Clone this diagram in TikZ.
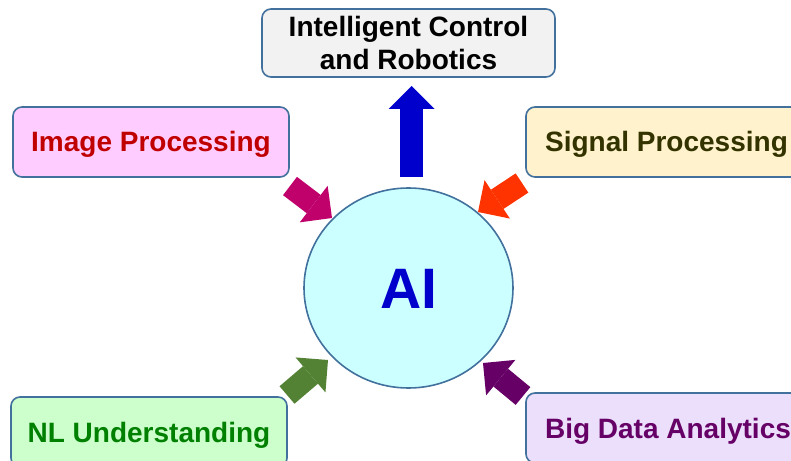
\documentclass[tikz,border=0pt]{standalone}
\usepackage{fontspec}
\setmainfont{Liberation Sans}
\usepackage{xcolor}
\usetikzlibrary{arrows.meta, shapes.geometric}

\definecolor{edgeblue}{HTML}{41719C}
\definecolor{roboFill}{HTML}{F2F2F2}
\definecolor{imageFill}{HTML}{FFCCFF}
\definecolor{imageText}{HTML}{C00000}
\definecolor{signalFill}{HTML}{FFF2CC}
\definecolor{signalText}{HTML}{333300}
\definecolor{nlFill}{HTML}{CCFFCC}
\definecolor{nlText}{HTML}{008000}
\definecolor{dataFill}{HTML}{EBDFFB}
\definecolor{dataText}{HTML}{660066}
\definecolor{aiFill}{HTML}{CCFFFF}
\definecolor{aiBlue}{HTML}{0000CC}
\definecolor{imageArrow}{HTML}{C0006B}
\definecolor{signalArrow}{HTML}{FF3300}
\definecolor{nlArrow}{HTML}{548235}

\begin{document}
\begin{tikzpicture}[x=1bp, y=-1bp,
    field/.style={draw=edgeblue, line width=1.6bp, rounded corners=9bp,
        minimum height=70bp, inner sep=0pt,
        font=\fontsize{28bp}{33bp}\selectfont\bfseries},
    flat/.style={text height=20bp, text depth=0bp},
    fat/.style={line width=23bp, -{Triangle[width=46bp, length=23bp, line width=0pt]}}]
  \useasboundingbox (0,0) rectangle (791,461);
  \clip (0,0) rectangle (791,461);

  % the fields round the centre
  \node[field, fill=roboFill, align=center, minimum width=293bp, minimum height=68bp]
      (robo) at (408.5,43) {Intelligent Control\\and Robotics};
  \node[field, flat, fill=imageFill, text=imageText, minimum width=276bp]
      (image) at (151,142) {Image Processing};
  \node[field, flat, fill=signalFill, text=signalText, minimum width=281bp]
      (signal) at (666.5,142) {Signal Processing};
  \node[field, flat, fill=nlFill, text=nlText, minimum width=276bp]
      (nl) at (149,432) {NL Understanding};
  \node[field, flat, fill=dataFill, text=dataText, minimum width=284bp]
      (data) at (668,428) {Big Data Analytics};

  % the centre
  \node[ellipse, draw=edgeblue, line width=1.6bp, fill=aiFill, text=aiBlue,
        minimum width=209bp, minimum height=200bp, inner sep=0pt,
        text height=41bp, text depth=0bp,
        font=\fontsize{57bp}{60bp}\selectfont\bfseries]
      (ai) at (408.5,288) {AI};

  % arrows
  \coordinate (upTail) at (411.5,177);
  \coordinate (upTip) at (411.5,86);
  \coordinate (imageTail) at (290,186);
  \coordinate (imageTip) at (332,218);
  \coordinate (signalTail) at (522,183);
  \coordinate (signalTip) at (478,212);
  \coordinate (nlTail) at (287,395);
  \coordinate (nlTip) at (328,360);
  \coordinate (dataTail) at (523,396);
  \coordinate (dataTip) at (483,363);

  \draw[fat, aiBlue] (upTail) -- (upTip);
  \draw[fat, imageArrow] (imageTail) -- (imageTip);
  \draw[fat, signalArrow] (signalTail) -- (signalTip);
  \draw[fat, nlArrow] (nlTail) -- (nlTip);
  \draw[fat, dataText] (dataTail) -- (dataTip);
\end{tikzpicture}
\end{document}
